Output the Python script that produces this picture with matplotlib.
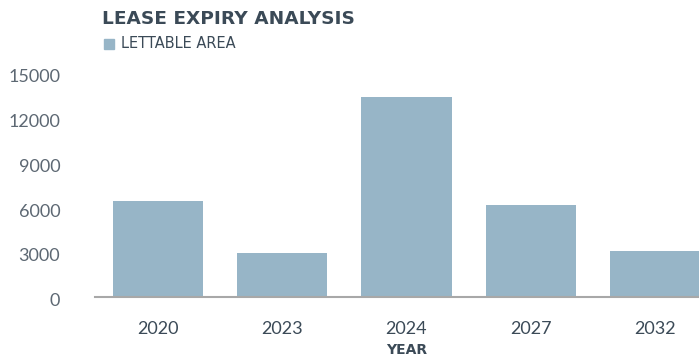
import matplotlib
matplotlib.use("Agg")
import matplotlib.pyplot as plt
from matplotlib.patches import Rectangle
from matplotlib.transforms import ScaledTranslation

years = ["2020", "2023", "2024", "2027", "2032"]
lettable_area = [6450, 2970, 13450, 6180, 3090]
y_ticks = [0, 3000, 6000, 9000, 12000, 15000]

bar_color = "#97b5c7"
text_dark = "#3b4a57"
text_grey = "#5d6873"

plt.rcParams["font.family"] = ["Lato", "DejaVu Sans"]

fig = plt.figure(figsize=(6.99, 3.56), dpi=100)
W, H = 699, 356
# axes in pixel terms: left edge 95, baseline 297, top (15000) 73.5
ax = fig.add_axes([95 / W, (H - 297) / H, (699 - 95) / W, (297 - 73.5) / H])

ax.bar(range(len(years)), lettable_area, width=0.726, color=bar_color, zorder=2)
ax.set_xlim(-0.508, 4.355)
ax.set_ylim(0, 15000)

ax.set_xticks(range(len(years)))
ax.set_xticklabels(years)
ax.set_yticks(y_ticks)
ax.set_yticklabels([str(v) for v in y_ticks])
ax.tick_params(axis="both", length=0, labelsize=13)
ax.tick_params(axis="x", pad=17, colors=text_dark)
ax.tick_params(axis="y", pad=25, colors=text_grey)

# nudge y labels down a little
shift = ScaledTranslation(0, -2.5 / 100, fig.dpi_scale_trans)
for lbl in ax.get_yticklabels():
    lbl.set_transform(lbl.get_transform() + shift)

for s in ["top", "right", "left"]:
    ax.spines[s].set_visible(False)
ax.spines["bottom"].set_color("#a8a8a8")
ax.spines["bottom"].set_linewidth(1.5)
ax.spines["bottom"].set_zorder(3)

fig.text(407 / W, 1 - 350 / H, "YEAR", fontsize=10, fontweight="bold", color=text_dark,
         family="DejaVu Sans", ha="center", va="center")

fig.text(102 / W, 1 - 19 / H, "LEASE EXPIRY ANALYSIS", fontsize=13.3, fontweight="bold",
         color=text_dark, family="DejaVu Sans", va="center", ha="left")
fig.patches.append(Rectangle((104 / W, 1 - 48.5 / H), 10 / W, 10 / H,
                             transform=fig.transFigure, color=bar_color))
fig.text(121 / W, 1 - 44 / H, "LETTABLE AREA", fontsize=10.5, color=text_dark,
         family="DejaVu Sans", va="center", ha="left")

fig.savefig("out.png", dpi=100)
